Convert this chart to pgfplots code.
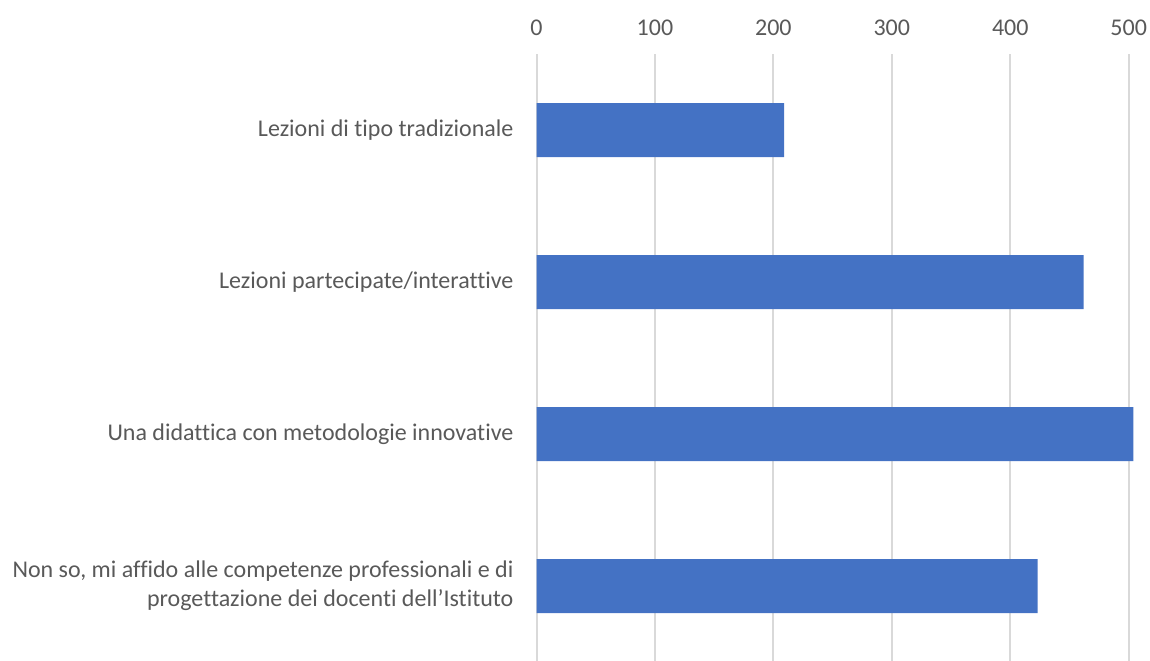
\documentclass[border=0pt]{standalone}
\usepackage{pgfplots}
\pgfplotsset{compat=1.18}
\usepackage{fontspec}
\setmainfont{Carlito}[Ligatures=NoCommon]
\definecolor{barblue}{HTML}{4472C4}
\definecolor{txtgrey}{HTML}{595959}
\definecolor{gridgrey}{HTML}{D9D9D9}
\begin{document}
\begin{tikzpicture}
\path[use as bounding box] (0,0) rectangle (575pt,330pt);
\begin{axis}[
  at={(268.25pt,-1pt)}, anchor=south west,
  scale only axis,
  width=296.1pt, height=304pt,
  xmin=0, xmax=500,
  ymin=-0.5, ymax=3.5,
  y dir=reverse,
  xbar, bar width=27pt,
  axis line style={draw=none},
  xtick={0,100,200,300,400,500},
  xticklabel pos=top,
  major tick length=0pt,
  xmajorgrids,
  major grid style={gridgrey, line width=1pt},
  ytick={0,1,2,3},
  yticklabels={Lezioni di tipo tradizionale, Lezioni partecipate/interattive, Una didattica con metodologie innovative, {Non so, mi affido alle competenze professionali e di\\progettazione dei docenti dell’Istituto}},
  yticklabel style={align=right, font=\fontsize{12}{14.6}\selectfont, text=txtgrey, xshift=-8pt},
  xticklabel style={font=\fontsize{12}{14.6}\selectfont, text=txtgrey, yshift=5.5pt},
  /pgf/number format/assume math mode=true,
  clip=false,
]
\addplot[fill=barblue, draw=none] coordinates {(209,0) (462,1) (504,2) (423,3)};
\end{axis}
\end{tikzpicture}
\end{document}
